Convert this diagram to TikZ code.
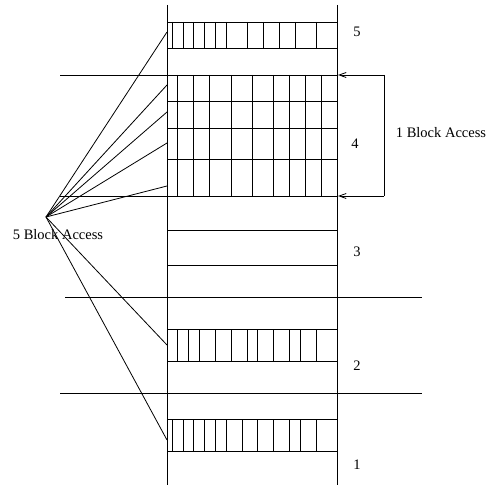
\documentclass[tikz,border=0pt]{standalone}
\usepackage{fontspec}
\setmainfont{Liberation Serif}
\usetikzlibrary{arrows.meta}
\begin{document}
\begin{tikzpicture}[x=1pt,y=-1pt,line width=0.8pt,
  lbl/.style={font=\fontsize{14.5}{16}\selectfont,inner sep=0pt},
  tipline/.style={-{Straight Barb[length=7pt,width=5pt]}}]
\useasboundingbox (0,0) rectangle (490,489);
% rails
\draw (167,5) -- (167,485);
\draw (337,5) -- (337,485);
% separators
\draw (60,75) -- (337,75);
\draw (60,196) -- (337,196);
\draw (65,297) -- (422,297);
\draw (60,393) -- (422,393);
% block 5
\draw (167,22) -- (337,22) (167,48) -- (337,48);
\foreach \x in {172,183,193,204,215,226,247,263,279,295,316} \draw (\x,22) -- (\x,48);
% block 4
\foreach \y in {101,128,159} \draw (167,\y) -- (337,\y);
\foreach \x in {177,193,209,231,252,273,289,305,321} \draw (\x,75) -- (\x,196);
% block 3
\draw (167,230) -- (337,230) (167,265) -- (337,265);
% block 2
\draw (167,329) -- (337,329) (167,361) -- (337,361);
\foreach \x in {177,188,199,215,231,247,257,273,289,300,316} \draw (\x,329) -- (\x,361);
% block 1
\draw (167,419) -- (337,419) (167,451) -- (337,451);
\foreach \x in {172,183,193,204,215,226,242,257,273,289,300,316} \draw (\x,419) -- (\x,451);
% labels
\node[lbl] (n5) at (357,32) {5};
\node[lbl] (n4) at (355,144) {4};
\node[lbl] (n3) at (357,252) {3};
\node[lbl] (n2) at (357,366) {2};
\node[lbl] (n1) at (357,465) {1};
\node[lbl] (one) at (441,133) {1 Block Access};
\node[lbl] (five) at (58,235) {5 Block Access};
% 1 block access bracket
\coordinate (a1) at (384,75);
\coordinate (a2) at (384,196);
\coordinate (t1) at (338,75);
\coordinate (t2) at (338,196);
\draw[tipline] (a1) -- (t1);
\draw[tipline] (a2) -- (t2);
\draw (a1) -- (a2);
% fan
\coordinate (f) at (46,217);
\foreach \y in {32,85,112,143,186,345,440} \draw (f) -- (167,\y);
\end{tikzpicture}
\end{document}
